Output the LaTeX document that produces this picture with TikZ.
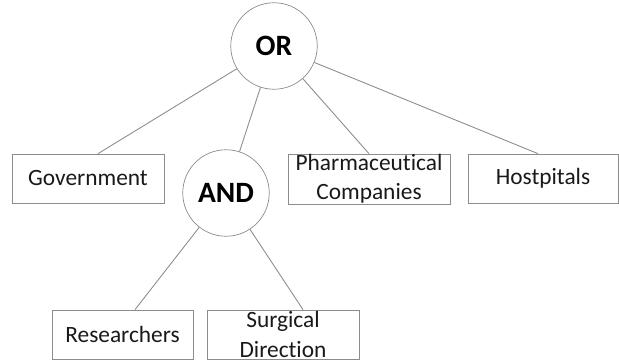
\documentclass[tikz,border=0pt]{standalone}
\usepackage{fontspec}
\setmainfont[Ligatures=NoCommon]{Carlito}
\begin{document}
\begin{tikzpicture}[
        gate/.style={circle,draw=black!45,minimum size=1.73cm,inner sep=0pt,font=\fontsize{16.8}{19}\selectfont\bfseries},
        party/.style={rectangle,draw=black!45,minimum height=0.98cm,inner sep=0pt,align=center,text=black!90,font=\fontsize{13.3}{16.6}\selectfont},
        link/.style={black!45,line width=0.5pt}
    ]
        \useasboundingbox (0,0) rectangle (12.38,7.22);
        \node[gate] (or) at (5.48,6.30) {OR};
        \node[gate] (and) at (4.52,3.36) {AND};
        \node[party,minimum width=3.04cm] (gov) at (1.76,3.65) {Government};
        \node[party,minimum width=3.24cm,minimum height=1.0cm] (pharma) at (7.38,3.64) {Pharmaceutical\\Companies};
        \node[party,minimum width=3.0cm] (hosp) at (10.86,3.65) {Hostpitals};
        \node[party,minimum width=2.82cm] (res) at (2.45,0.53) {Researchers};
        \node[party,minimum width=3.04cm] (surg) at (5.66,0.53) {Surgical\\Direction};
        \draw[link] (or) -- ([xshift=0.2cm]gov.north);
        \draw[link] (or) -- (and);
        \draw[link] (or) -- (pharma.north);
        \draw[link] (or) -- ([xshift=-0.1cm]hosp.north);
        \draw[link] (and) -- ([xshift=0.25cm]res.north);
        \draw[link] (and) -- ([xshift=0.4cm]surg.north);
    \end{tikzpicture}
\end{document}
